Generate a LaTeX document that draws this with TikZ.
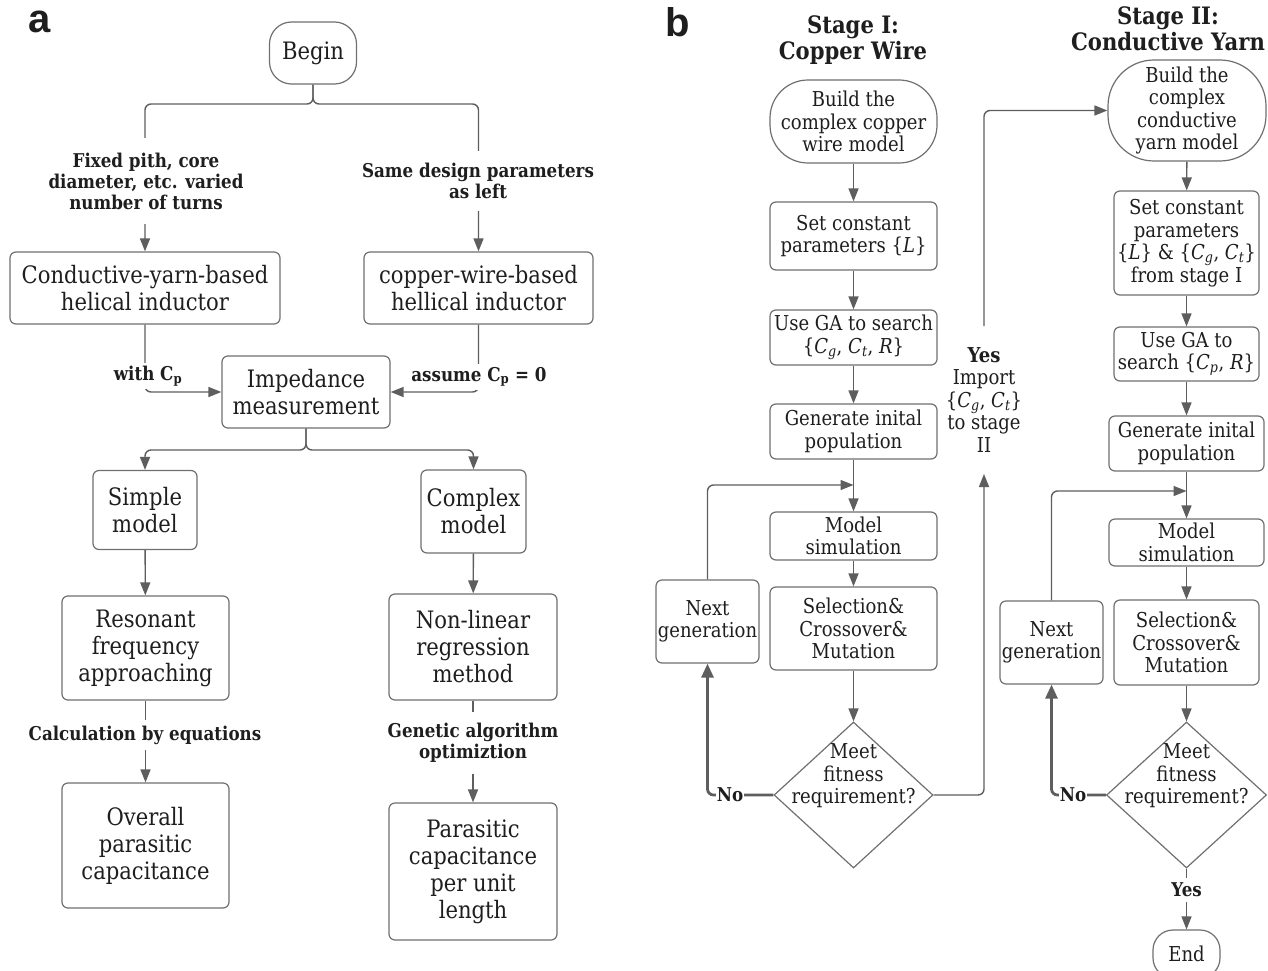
\documentclass[tikz,border=0pt]{standalone}
\usepackage{fontspec}
\setmainfont{DejaVu Serif}[FakeStretch=0.88]
\newfontfamily\panelfont{Liberation Sans}
\usetikzlibrary{arrows.meta,shapes.geometric}
\definecolor{ln}{HTML}{5E5E5E}
\definecolor{bx}{HTML}{707070}
\definecolor{tx}{HTML}{1E1E1E}
\newcommand{\Cs}[1]{\textit{C}\textsubscript{\textit{#1}}}
\begin{document}
\begin{tikzpicture}[x=1pt,y=-1pt,
 box/.style={draw=bx, line width=1.2pt, rounded corners=6pt, inner sep=0pt, align=center, text=tx},
 fa/.style={font=\fontsize{24}{27}\selectfont},
 fb/.style={font=\fontsize{20.5}{22.5}\selectfont},
 lbl/.style={font=\bfseries\fontsize{19}{21}\selectfont, align=center, fill=white, text=tx, inner xsep=2pt},
 conn/.style={draw=ln, line width=1.4pt, rounded corners=6pt, -{Triangle[length=13pt,width=10pt]}},
 thickconn/.style={draw=ln, line width=2.8pt, rounded corners=6pt, -{Triangle[length=14pt,width=12pt]}},
 dia/.style={draw=bx, line width=1.2pt, shape=diamond, inner sep=0pt},
 title/.style={font=\bfseries\fontsize{24}{26}\selectfont, align=center, text=tx},
 panel/.style={font=\panelfont\bfseries\fontsize{40}{40}\selectfont, text=tx}
]
\useasboundingbox (0,0) rectangle (1268,971);
\fill[white] (0,0) rectangle (1268,971);

% ---------- panel a ----------
\node[panel] (pa) at (40,22) {a};
\node[box,fa,minimum width=87pt,minimum height=62pt,rounded corners=22pt] (begin) at (313,53) {Begin};
\node[box,fa,minimum width=270pt,minimum height=72pt] (cy) at (145,288) {Conductive-yarn-based\\helical inductor};
\node[box,fa,minimum width=229pt,minimum height=72pt] (cw) at (478.5,288) {copper-wire-based\\hellical inductor};
\node[box,fa,minimum width=168pt,minimum height=72pt] (imp) at (306,392) {Impedance\\measurement};
\node[box,fa,minimum width=104pt,minimum height=79pt] (simple) at (145,510) {Simple\\model};
\node[box,fa,minimum width=105pt,minimum height=83pt] (complex) at (473.5,511.5) {Complex\\model};
\node[box,fa,minimum width=167pt,minimum height=104pt] (res) at (145.5,648) {Resonant\\frequency\\approaching};
\node[box,fa,minimum width=168pt,minimum height=106pt] (nl) at (473,647) {Non-linear\\regression\\method};
\node[box,fa,minimum width=167pt,minimum height=125pt] (over) at (145.5,845.5) {Overall\\parasitic\\capacitance};
\node[box,fa,minimum width=168pt,minimum height=137pt] (par) at (473,871.5) {Parasitic\\capacitance\\per unit\\length};

\coordinate (bsplit) at (313,104);
\draw[conn] (begin.south) -- (bsplit) -| (cy.north);
\draw[conn] (begin.south) -- (bsplit) -| (cw.north);
\node[lbl,inner ysep=15pt] (l1) at (146,181) {Fixed pith, core\\diameter, etc. varied\\number of turns};
\node[lbl,inner ysep=12pt] (l2) at (478,181) {Same design parameters\\as left};

\draw[conn] (cy.south) |- (imp.west);
\draw[conn] (cw.south) |- (imp.east);
\node[lbl,inner ysep=3pt] (l3) at (148,376) {with C\textsubscript{p}};
\node[lbl,inner ysep=3pt] (l4) at (479,377) {assume C\textsubscript{p} = 0};

\coordinate (isplit) at (306,450);
\draw[conn] (imp.south) -- (isplit) -| (simple.north);
\draw[conn] (imp.south) -- (isplit) -| (complex.north);
\draw[conn] (simple) -- (res);
\draw[conn] (complex) -- (nl);
\draw[conn] (res) -- (over);
\draw[conn] (nl) -- (par);
\node[lbl,inner ysep=6pt] (l5) at (145,735) {Calculation by equations};
\node[lbl,inner ysep=11pt] (l6) at (473,743) {Genetic algorithm\\optimiztion};

% ---------- panel b ----------
\node[panel] (pb) at (678,22) {b};
\node[title] (t1) at (853,40) {Stage I:\\Copper Wire};
\node[title] (t2) at (1168,29) {Stage II:\\Conductive Yarn};

\node[box,fb,minimum width=167pt,minimum height=83pt,rounded corners=38pt] (b1) at (853.5,121.5) {Build the\\complex copper\\wire model};
\node[box,fb,minimum width=167pt,minimum height=68pt] (s1) at (853.5,236) {Set constant\\parameters \{\textit{L}\}};
\node[box,fb,minimum width=167pt,minimum height=55pt] (ga1) at (853.5,337.5) {Use GA to search\\\{\Cs{g}, \Cs{t}, \textit{R}\}};
\node[box,fb,minimum width=167pt,minimum height=55pt] (gen1) at (853.5,431.5) {Generate inital\\population};
\node[box,fb,minimum width=167pt,minimum height=48pt] (ms1) at (853.5,536) {Model\\simulation};
\node[box,fb,minimum width=167pt,minimum height=83pt] (sel1) at (853.5,628.5) {Selection\&\\Crossover\&\\Mutation};
\node[dia,minimum width=159pt,minimum height=146pt] (d1) at (853.5,795) {};
\node[fb,align=center,text=tx] (d1t) at (853.5,776) {Meet\\fitness\\requirement?};
\node[box,fb,minimum width=103pt,minimum height=83pt] (ng1) at (707.5,621.5) {Next\\generation};

\draw[conn] (b1) -- (s1);
\draw[conn] (s1) -- (ga1);
\draw[conn] (ga1) -- (gen1);
\draw[conn] (gen1) -- (ms1);
\coordinate (j1) at (853.5,485);
\draw[conn] (ng1.north) |- (j1);
\draw[conn] (ms1) -- (sel1);
\draw[conn] (sel1) -- (d1.north);
\draw[thickconn] (d1.west) -| (ng1.south);
\node[lbl,font=\bfseries\fontsize{19}{21}\selectfont,inner sep=1pt] (no1) at (730,795) {No};

\coordinate (ya) at (984,474);
\coordinate (yb) at (984,326);
\draw[conn] (d1.east) -| (ya);
\node[fb,align=center,text=tx] (yl) at (984,400) {\textbf{Yes}\\Import\\\{\Cs{g}, \Cs{t}\}\\to stage\\II};

\node[box,fb,minimum width=158pt,minimum height=101pt,rounded corners=46pt] (b2) at (1187,110.5) {Build the\\complex\\conductive\\yarn model};
\draw[conn] (yb) |- (b2.west);
\node[box,fb,minimum width=145pt,minimum height=104pt] (s2) at (1186.5,243) {Set constant\\parameters\\\{\textit{L}\} \& \{\Cs{g}, \Cs{t}\}\\from stage I};
\node[box,fb,minimum width=145pt,minimum height=54pt] (ga2) at (1186.5,354) {Use GA to\\search \{\Cs{p}, \textit{R}\}};
\node[box,fb,minimum width=155pt,minimum height=55pt] (gen2) at (1186.5,443.5) {Generate inital\\population};
\node[box,fb,minimum width=155pt,minimum height=47pt] (ms2) at (1186.5,542.5) {Model\\simulation};
\node[box,fb,minimum width=145pt,minimum height=85pt] (sel2) at (1186.5,642.5) {Selection\&\\Crossover\&\\Mutation};
\node[dia,minimum width=160pt,minimum height=146pt] (d2) at (1186.5,795) {};
\node[fb,align=center,text=tx] (d2t) at (1186.5,776) {Meet\\fitness\\requirement?};
\node[box,fb,minimum width=103pt,minimum height=83pt] (ng2) at (1051.5,642.5) {Next\\generation};
\node[box,fb,minimum width=67pt,minimum height=48pt,rounded corners=20pt] (end) at (1186.5,954) {End};

\draw[conn] (b2) -- (s2);
\draw[conn] (s2) -- (ga2);
\draw[conn] (ga2) -- (gen2);
\draw[conn] (gen2) -- (ms2);
\coordinate (j2) at (1186.5,491);
\draw[conn] (ng2.north) |- (j2);
\draw[conn] (ms2) -- (sel2);
\draw[conn] (sel2) -- (d2.north);
\draw[thickconn] (d2.west) -| (ng2.south);
\node[lbl,font=\bfseries\fontsize{19}{21}\selectfont,inner sep=1pt] (no2) at (1073,795) {No};
\draw[conn] (d2.south) -- (end.north);
\node[lbl,font=\bfseries\fontsize{19}{21}\selectfont,inner ysep=5pt] (yes2) at (1186.5,890) {Yes};
\end{tikzpicture}
\end{document}
